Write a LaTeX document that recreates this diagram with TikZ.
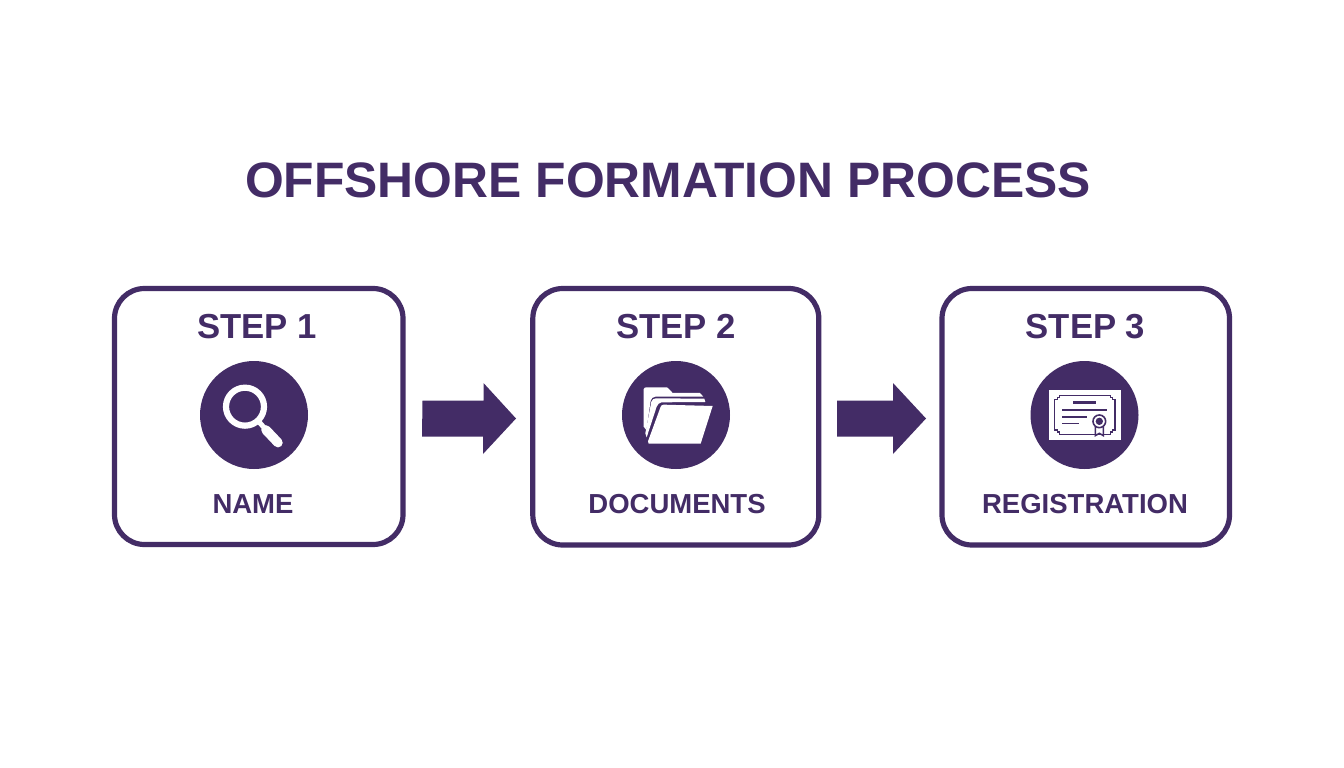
\documentclass[tikz,border=0pt]{standalone}
\usepackage{fontspec}
\setmainfont{Liberation Sans}
\definecolor{brand}{HTML}{432C66}
\tikzset{
  card/.style={draw=brand,line width=5.2pt,rounded corners=30pt,fill=white,inner sep=0pt,outer sep=0pt,anchor=north west},
  disc/.style={circle,fill=brand,minimum size=108pt,inner sep=0pt},
  steplabel/.style={text=brand,font=\fontsize{34.7}{36}\bfseries\selectfont,inner sep=0pt},
  caption/.style={text=brand,font=\fontsize{27.5}{28}\bfseries\selectfont,inner sep=0pt},
  flow/.style={fill=brand,draw=none},
  glyph/.style={fill=white,draw=none},
  ink/.style={fill=brand,draw=none}
}
\begin{document}
\begin{tikzpicture}[x=1pt,y=-1pt]
\useasboundingbox[fill=white] (0,0) rectangle (1344,768);
\node[text=brand,font=\fontsize{49.8}{54}\bfseries\selectfont,inner sep=0pt] (title) at (668,180) {OFFSHORE FORMATION PROCESS};
% cards
\node[card,minimum width=288.5pt,minimum height=256pt] (c1) at (114.5,288.5) {};
\node[card,minimum width=286pt,minimum height=256.5pt] (c2) at (532.8,288.5) {};
\node[card,minimum width=287.5pt,minimum height=256.5pt] (c3) at (942,288.5) {};
\node[steplabel] (s1) at (257,327) {STEP 1};
\node[steplabel] (s2) at (676,327) {STEP 2};
\node[steplabel] (s3) at (1085.5,327) {STEP 3};
\node[disc] (d1) at (254,415) {};
\node[disc] (d2) at (676,415) {};
\node[disc] (d3) at (1084.5,415) {};
\node[caption] (n1) at (253,504) {NAME};
\node[caption] (n2) at (677,504) {DOCUMENTS};
\node[caption] (n3) at (1085,504) {REGISTRATION};
% arrows
\coordinate (a1s) at (422.5,418.5);
\coordinate (a1e) at (516,418.5);
\coordinate (a2s) at (837,418.5);
\coordinate (a2e) at (926,418.5);
\fill[flow] (a1s) ++(0,-18) -- ++(61,0) -- ++(0,-17.5) -- (a1e) -- ++(-33,35.5) -- ++(0,-17.5) -- ++(-61,0) -- cycle;
\fill[flow] (a2s) ++(0,-18) -- ++(56,0) -- ++(0,-17.5) -- (a2e) -- ++(-33,35.5) -- ++(0,-17.5) -- ++(-56,0) -- cycle;
% magnifier
\begin{scope}[shift={(190,350)},x=0.3333pt,y=-0.3333pt]
  \draw[white,line width=6.2pt] (165,170) circle[radius=57];
  \draw[white,line width=5pt] (204,212) -- (225,236);
  \draw[white,line width=9.5pt,line cap=round] (228,240) -- (264,278);
\end{scope}
% folder
\begin{scope}[shift={(612,350)},x=0.3333pt,y=-0.3333pt]
  \fill[glyph] (95,118) to[out=80,in=180] (102,112) -- (165,112) -- (172,118) -- (182,129) -- (264,129) -- (274,140) -- (130,140) to[out=190,in=80] (116,152) -- (103,240) -- (95,230) -- cycle;
  \fill[glyph] (118,155) to[out=80,in=190] (132,145) -- (277,146) -- (280,156) -- (148,157) to[out=190,in=60] (134,170) -- (104,262) -- (100,250) -- cycle;
  \fill[glyph] (146,170) to[out=70,in=190] (155,164) -- (302,168) -- (266,281) -- (110,281) -- (108,274) -- cycle;
\end{scope}
% certificate
\begin{scope}[shift={(1020,350)},x=0.3333pt,y=-0.3333pt]
  \fill[glyph] (88,120) rectangle (302,269);
  \draw[brand,line width=1.5pt,line join=miter] (118,136) -- (272,136) -- (272,143) -- (278,143) -- (278,149) -- (285,149) -- (285,240) -- (278,240) -- (278,246) -- (272,246) -- (272,254) -- (118,254) -- (118,246) -- (112,246) -- (112,240) -- (104,240) -- (104,149) -- (112,149) -- (112,143) -- (118,143) -- cycle;
  \fill[ink] (160,154) rectangle (228,162);
  \fill[ink] (125,178) rectangle (262,183);
  \fill[ink] (125,199) rectangle (200,204);
  \fill[ink] (125,218) rectangle (177,223);
  \fill[glyph] (214,190) rectangle (264,240);
  \draw[brand,line width=1.5pt,fill=white] (226,230) -- (226,257) -- (238,250) -- (250,257) -- (250,230);
  \draw[brand,line width=1.6pt,fill=white] (238,214) circle[radius=19];
  \fill[ink] (238,214) circle[radius=11];
\end{scope}
\end{tikzpicture}
\end{document}
